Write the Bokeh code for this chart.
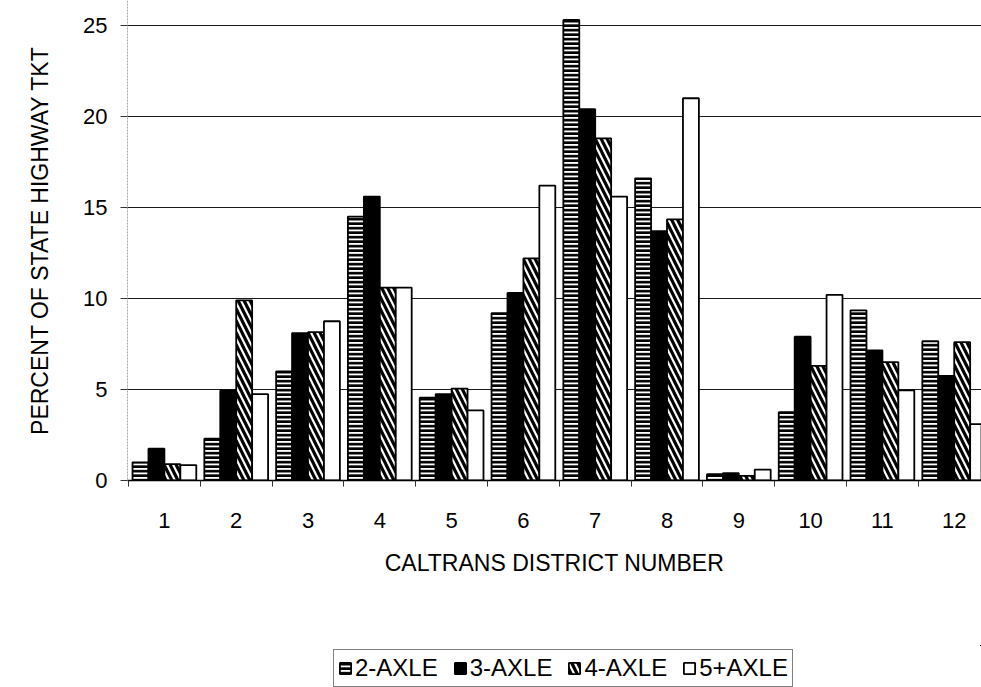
from bokeh.plotting import figure
from bokeh.layouts import column
from bokeh.models import (ColumnDataSource, FixedTicker, Legend, LegendItem, Range1d, Span)
from bokeh.embed import file_html
from bokeh.resources import INLINE

# ---- data ----
districts = ["1", "2", "3", "4", "5", "6", "7", "8", "9", "10", "11", "12"]
series_names = ["2-AXLE", "3-AXLE", "4-AXLE", "5+AXLE"]
axle2 = [1.0, 2.3, 6.0, 14.5, 4.55, 9.2, 25.3, 16.6, 0.35, 3.75, 9.35, 7.65]
axle3 = [1.75, 4.95, 8.1, 15.6, 4.75, 10.3, 20.4, 13.7, 0.4, 7.9, 7.15, 5.75]
axle4 = [0.9, 9.9, 8.15, 10.6, 5.05, 12.2, 18.8, 14.35, 0.25, 6.3, 6.5, 7.6]
axle5 = [0.85, 4.75, 8.75, 10.6, 3.85, 16.2, 15.6, 21.0, 0.6, 10.2, 4.95, 3.1]
y_ticks = [0, 5, 10, 15, 20, 25]
y_title = "PERCENT OF STATE HIGHWAY TKT"
x_title = "CALTRANS DISTRICT NUMBER"

FONT = "Liberation Sans"
W = 981
P_H = 645
L_H = 42
X0, X1 = -0.014, 11.88
Y0, Y1 = 0, 26.37

p = figure(width=W, height=P_H, output_backend="svg", toolbar_location=None,
           x_range=Range1d(X0, X1), y_range=Range1d(Y0, Y1),
           min_border_left=127, min_border_right=0, min_border_top=0,
           min_border_bottom=P_H - 480)
p.background_fill_color = "white"
p.border_fill_color = "white"
p.outline_line_color = None

centers = [i + 0.5 for i in range(len(districts))]
bar_w = 0.222
offsets = [-1.5, -0.5, 0.5, 1.5]
values = [axle2, axle3, axle4, axle5]
styles = [
    dict(fill_color="white", hatch_pattern="horizontal_line", hatch_color="black",
         hatch_weight=2.8, hatch_scale=4.5),
    dict(fill_color="black"),
    dict(fill_color="white", hatch_pattern="left_diagonal_line", hatch_color="black",
         hatch_weight=3.2, hatch_scale=12),
    dict(fill_color="white"),
]

for vals, off, st in zip(values, offsets, styles):
    src = ColumnDataSource(dict(x=[c + off * bar_w for c in centers], top=vals))
    p.vbar(x="x", top="top", width=bar_w, bottom=0, source=src,
           line_color="black", line_width=1.8, **st)

# grid
p.xgrid.visible = False
p.ygrid.ticker = FixedTicker(ticks=y_ticks)
p.ygrid.grid_line_color = "#1a1a1a"
p.ygrid.grid_line_width = 1.2

# y axis
p.yaxis.ticker = FixedTicker(ticks=y_ticks)
p.yaxis.major_label_text_font = FONT
p.yaxis.major_label_text_font_size = "22px"
p.yaxis.major_label_text_color = "black"
p.yaxis.major_label_standoff = 13
p.yaxis.major_tick_out = 7
p.yaxis.major_tick_in = 0
p.yaxis.major_tick_line_color = "#333333"
p.yaxis.minor_tick_line_color = None
p.yaxis.axis_line_color = None
p.yaxis.axis_label = y_title
p.yaxis.axis_label_text_font = FONT
p.yaxis.axis_label_text_font_size = "23px"
p.yaxis.axis_label_text_font_style = "normal"
p.yaxis.axis_label_text_color = "black"
p.yaxis.axis_label_standoff = 27

# dotted vertical axis line along the left edge of the plot area
p.add_layout(Span(location=X0, dimension="height", line_color="#555555",
                  line_width=1, line_dash="2 1"))

# x axis
p.xaxis.ticker = FixedTicker(ticks=centers, minor_ticks=list(range(len(districts) + 1)))
p.xaxis.major_label_overrides = {c: d for c, d in zip(centers, districts)}
p.xaxis.major_tick_out = 0
p.xaxis.major_tick_in = 0
p.xaxis.minor_tick_out = 6
p.xaxis.minor_tick_in = 0
p.xaxis.minor_tick_line_color = "#333333"
p.xaxis.axis_line_color = "black"
p.xaxis.axis_line_width = 1.5
p.xaxis.major_label_text_font = FONT
p.xaxis.major_label_text_font_size = "22px"
p.xaxis.major_label_text_color = "black"
p.xaxis.major_label_standoff = 26
p.xaxis.axis_label = x_title
p.xaxis.axis_label_text_font = FONT
p.xaxis.axis_label_text_font_size = "23px"
p.xaxis.axis_label_text_font_style = "normal"
p.xaxis.axis_label_text_color = "black"
p.xaxis.axis_label_standoff = 19

# legend strip (separate figure below the chart); its sample glyphs lie outside its view
lf = figure(width=W, height=L_H, output_backend="svg", toolbar_location=None,
            x_range=Range1d(-10, -9), y_range=Range1d(-10, -9),
            x_axis_location=None, y_axis_location=None,
            min_border=0, min_border_left=0, min_border_right=0,
            min_border_top=0, min_border_bottom=0)
lf.outline_line_color = None
lf.xgrid.visible = False
lf.ygrid.visible = False
leg_renderers = []
for vals, st in zip(values, styles):
    r = lf.vbar(x=centers, top=vals, width=bar_w, line_color="black", line_width=1.8, **st)
    leg_renderers.append(r)

legend = Legend(items=[LegendItem(label=n, renderers=[r]) for n, r in zip(series_names, leg_renderers)],
                orientation="horizontal", location=(206, 0),
                glyph_width=14, glyph_height=14, label_standoff=3, spacing=15,
                padding=4, margin=0,
                label_text_font=FONT, label_text_font_size="24px",
                label_text_color="black",
                border_line_color="black", border_line_width=1.2,
                background_fill_color="white", background_fill_alpha=1)
lf.add_layout(legend, "center")

layout = column(p, lf, spacing=0)
open("out.html", "w").write(file_html(layout, INLINE))
